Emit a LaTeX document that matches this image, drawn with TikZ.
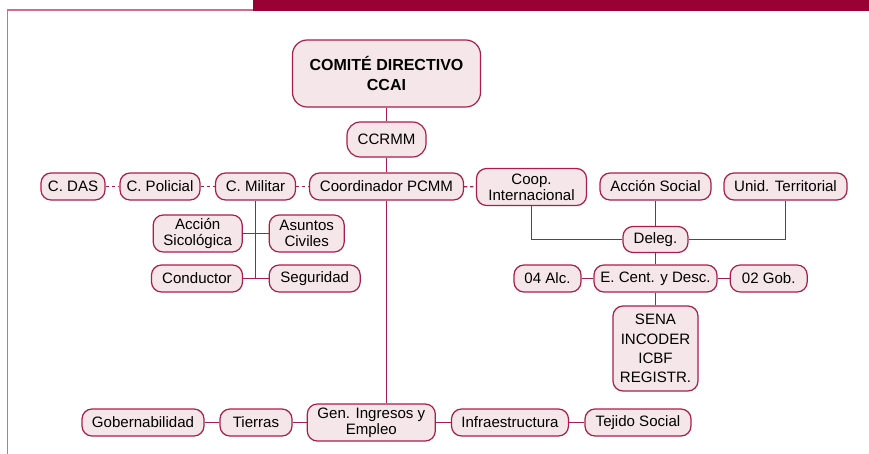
\documentclass[tikz,border=0pt]{standalone}
\usepackage{fontspec}
\setmainfont{Liberation Sans}
\usetikzlibrary{positioning}

\definecolor{wine}{HTML}{990033}
\definecolor{boxline}{HTML}{A91E48}
\definecolor{boxfill}{HTML}{F5E6EA}
\definecolor{frameline}{HTML}{C8708E}

\begin{document}
\begin{tikzpicture}[x=0.75pt, y=-0.75pt,
    block/.style={draw=boxline,
        fill=boxfill,
        line width=0.9pt,
        rounded corners=7.5pt,
        align=center,
        inner sep=0pt,
        minimum height=20.25pt,
        font=\fontsize{11.3}{12}\selectfont},
    link/.style={draw=boxline, line width=0.9pt},
    dots/.style={link, dash pattern=on 2.5pt off 2pt}]

\useasboundingbox (0,0) rectangle (869,454);

% Frame
\fill[wine] (253,0) rectangle (869,10.5);
\draw[frameline, line width=1.2pt] (7.5,454) -- (7.5,10) -- (253,10);

\node[block,
    rounded corners=11pt,
    minimum width=141pt,
    minimum height=50.25pt,
    font=\bfseries\fontsize{12}{15}\selectfont
] (block0) at (386.5,73.5) {COMITÉ DIRECTIVO\\CCAI};

\node[block,
    rounded corners=10pt,
    minimum width=59.25pt,
    minimum height=26.25pt] (block1) at (386.5,139.5) {CCRMM};

% Coordination row
\node[block, minimum width=115.5pt] (block2) at (386.5,186.5) {Coordinador PCMM};
\node[block, minimum width=60pt] (block3) at (255.5,186.5) {C. Militar};
\node[block, minimum width=60pt] (block4) at (160,186.5) {C. Policial};
\node[block, minimum width=48pt] (block5) at (73,186.5) {C. DAS};
\node[block, minimum width=82.5pt, minimum height=27.75pt] (block6) at (531.5,187) {Coop.\\Internacional};
\node[block, minimum width=83.25pt] (block7) at (655.5,186.5) {Acción Social};
\node[block, minimum width=92.25pt] (block8) at (785.5,186.5) {Unid. Territorial};

% Delegation branch
\node[block, minimum width=48.75pt, minimum height=19.5pt] (block9) at (655.5,239.5) {Deleg.};
\node[block, minimum width=92.25pt] (block10) at (655.5,278.5) {E. Cent. y Desc.};
\node[block, minimum width=50.25pt] (block11) at (547.5,278.5) {04 Alc.};
\node[block, minimum width=57.75pt] (block12) at (768.7,278.5) {02 Gob.};
\node[block,
    minimum width=63.75pt,
    minimum height=63.75pt,
    font=\fontsize{11.3}{14.5}\selectfont] (block13) at (655.5,348.5) {SENA\\INCODER\\ICBF\\REGISTR.};

% Military branch
\node[block, minimum width=66.75pt, minimum height=27.75pt] (block14) at (197.7,233.5) {Acción\\Sicológica};
\node[block, minimum width=56.25pt, minimum height=27.75pt] (block15) at (306.7,233.5) {Asuntos\\Civiles};
\node[block, minimum width=68.25pt] (block16) at (197,278.5) {Conductor};
\node[block, minimum width=68.25pt] (block17) at (314.7,278.5) {Seguridad};

% Bottom row
\node[block, minimum width=96pt, minimum height=27.75pt] (block18) at (371.3,422.5) {Gen. Ingresos y\\Empleo};
\node[block, minimum width=54pt] (block19) at (256,422.5) {Tierras};
\node[block, minimum width=91.5pt] (block20) at (143,422.5) {Gobernabilidad};
\node[block, minimum width=87.75pt] (block21) at (510,422.5) {Infraestructura};
\node[block, minimum width=79.5pt] (block22) at (638,422.5) {Tejido Social};

% Lines
\draw[link] (block0) -- (block1);
\draw[link] (block1) -- (block2);
\draw[link] (block2.south) -- (block2.south |- block18.north);

\draw[dots] (block5) -- (block4);
\draw[dots] (block4) -- (block3);
\draw[dots] (block3) -- (block2);
\draw[dots] (block2) -- (block6);

\draw[link] (block3.south) -- (block3.south |- block16.east);
\draw[link] (block14) -- (block15);
\draw[link] (block16) -- (block17);

\draw[link] (block6.south) |- (block9.west);
\draw[link] (block8.south) |- (block9.east);
\draw[link] (block7) -- (block9);
\draw[link] (block9) -- (block10);
\draw[link] (block11) -- (block10);
\draw[link] (block10) -- (block12);
\draw[link] (block10) -- (block13);

\draw[link] (block20) -- (block19);
\draw[link] (block19) -- (block18);
\draw[link] (block18) -- (block21);
\draw[link] (block21) -- (block22);

\end{tikzpicture}
\end{document}
